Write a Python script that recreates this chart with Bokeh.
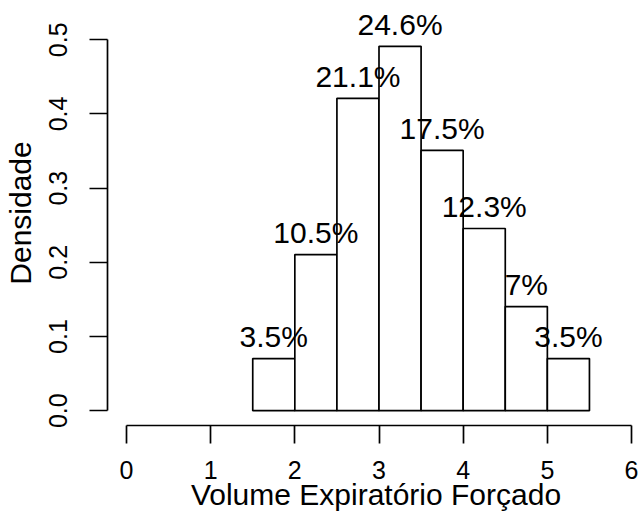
from bokeh.plotting import figure
from bokeh.models import FixedTicker, PrintfTickFormatter, Range1d, ColumnDataSource, LabelSet
from bokeh.core.properties import value
from bokeh.embed import file_html
from bokeh.resources import INLINE

# Data
bin_left = [1.5, 2.0, 2.5, 3.0, 3.5, 4.0, 4.5, 5.0]
bin_right = [2.0, 2.5, 3.0, 3.5, 4.0, 4.5, 5.0, 5.5]
density = [0.0702, 0.2105, 0.4211, 0.4912, 0.3509, 0.2456, 0.1404, 0.0702]
pct_labels = ["3.5%", "10.5%", "21.1%", "24.6%", "17.5%", "12.3%", "7%", "3.5%"]
x_ticks = [0, 1, 2, 3, 4, 5, 6]
y_ticks = [0.0, 0.1, 0.2, 0.3, 0.4, 0.5]

mids = [(a + b) / 2 for a, b in zip(bin_left, bin_right)]

FONT = "Liberation Sans"

p = figure(width=644, height=523, output_backend="svg", toolbar_location=None,
           x_range=Range1d(-0.2253, 6.154), y_range=Range1d(-0.02, 0.553),
           min_border_left=106, min_border_right=0, min_border_top=0, min_border_bottom=98)
p.outline_line_color = None
p.xgrid.visible = False
p.ygrid.visible = False
p.background_fill_color = "white"
p.border_fill_color = "white"

p.quad(left=bin_left, right=bin_right, bottom=0, top=density,
       fill_color="white", line_color="black", line_width=1.7)

src = ColumnDataSource(dict(x=mids, y=density, t=pct_labels))
labels = LabelSet(x="x", y="y", text="t", source=src, text_align="center",
                  text_baseline="alphabetic", y_offset=11.5,
                  text_font=value(FONT), text_font_size="30px", text_color="black")
p.add_layout(labels)

for ax in (p.xaxis[0], p.yaxis[0]):
    ax.axis_line_width = 1.7
    ax.major_tick_line_width = 1.7
    ax.major_tick_out = 18
    ax.major_tick_in = 0
    ax.minor_tick_out = 0
    ax.minor_tick_in = 0
    ax.major_label_text_font = FONT
    ax.major_label_text_font_size = "25px"
    ax.major_label_text_color = "black"
    ax.axis_label_text_font = FONT
    ax.axis_label_text_font_size = "30px"
    ax.axis_label_text_font_style = "normal"
    ax.axis_label_text_color = "black"
    ax.axis_line_color = "black"
    ax.major_tick_line_color = "black"

xa = p.xaxis[0]
xa.ticker = FixedTicker(ticks=x_ticks)
xa.bounds = (0, 6)
xa.formatter = PrintfTickFormatter(format="%d")
xa.major_label_standoff = 17
xa.axis_label = "Volume Expiratório Forçado"
xa.axis_label_standoff = -4

ya = p.yaxis[0]
ya.ticker = FixedTicker(ticks=y_ticks)
ya.bounds = (0, 0.5)
ya.formatter = PrintfTickFormatter(format="%.1f")
ya.major_label_orientation = "vertical"
ya.major_label_standoff = 22
ya.axis_label = "Densidade"
ya.axis_label_standoff = 10

open("out.html", "w").write(file_html(p, INLINE))
